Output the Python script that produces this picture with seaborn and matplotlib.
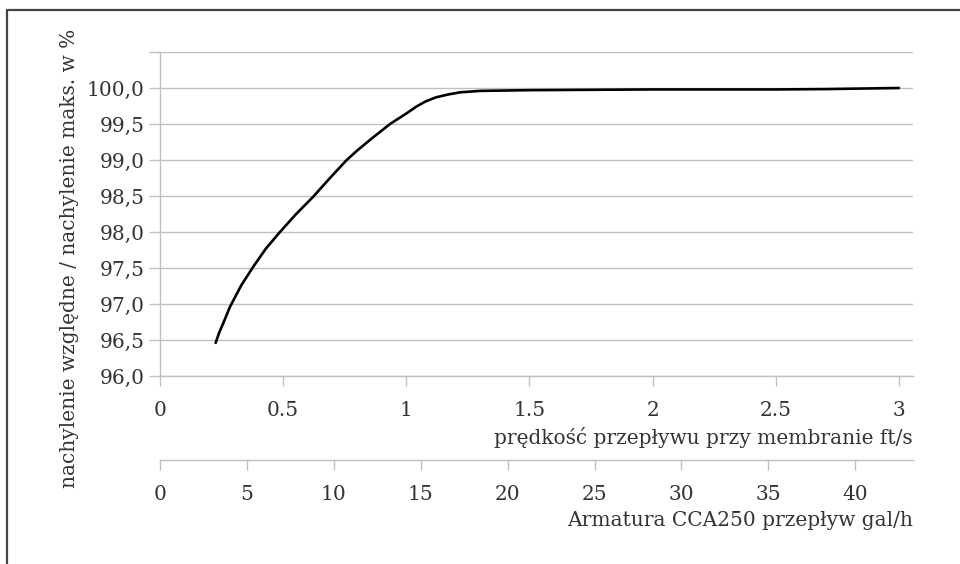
import numpy as np
import matplotlib
matplotlib.use("Agg")
import matplotlib.pyplot as plt
from matplotlib.lines import Line2D
import seaborn as sns

# dane: prędkość (ft/s) i nachylenie względne (%)
velocity_fts = [0.226, 0.240, 0.260, 0.284, 0.33, 0.379, 0.43, 0.487, 0.55, 0.622,
                0.69, 0.758, 0.80, 0.86, 0.934, 0.97, 1.002, 1.04, 1.076, 1.12,
                1.17, 1.218, 1.30, 1.50, 2.00, 2.50, 2.70, 3.00]
slope_pct = [96.46, 96.60, 96.76, 96.96, 97.26, 97.52, 97.77, 98.00, 98.24, 98.49,
             98.75, 99.00, 99.13, 99.30, 99.50, 99.58, 99.65, 99.74, 99.81, 99.87,
             99.91, 99.94, 99.96, 99.97, 99.98, 99.98, 99.985, 100.00]

y_ticks = [96.0, 96.5, 97.0, 97.5, 98.0, 98.5, 99.0, 99.5, 100.0, 100.5]
y_labels = ["96,0", "96,5", "97,0", "97,5", "98,0", "98,5", "99,0", "99,5", "100,0", ""]
x_ticks = [0, 0.5, 1, 1.5, 2, 2.5, 3]
x_labels = ["0", "0.5", "1", "1.5", "2", "2.5", "3"]
gal_ticks = [0, 5, 10, 15, 20, 25, 30, 35, 40]
gal_per_fts = 14.17  # przelicznik ft/s -> gal/h (CCA250)

sns.set_theme(style="white")
plt.rcParams['font.family'] = ['DejaVu Serif']
txt = "#333333"
grid_c = "#c0c0c0"
fs = 14.5

fig = plt.figure(figsize=(9.6, 5.64), dpi=100)
ax = fig.add_axes([160 / 960, 1 - 376 / 564, (913 - 160) / 960, (376 - 52) / 564])

sns.lineplot(x=velocity_fts, y=slope_pct, ax=ax, color="black", linewidth=1.9, sort=False)

ax.set_xlim(0, 3.057)
ax.set_ylim(96.0, 100.5)
ax.set_yticks(y_ticks)
ax.set_yticklabels(y_labels)
ax.set_xticks(x_ticks)
ax.set_xticklabels(x_labels)
ax.grid(axis="y", color=grid_c, linewidth=1.0)
ax.set_axisbelow(True)

for s in ["top", "right"]:
    ax.spines[s].set_visible(False)
for s in ["left", "bottom"]:
    ax.spines[s].set_color(grid_c)
    ax.spines[s].set_linewidth(1.0)

ax.tick_params(axis="y", which="major", left=True, length=8, width=1.0, color=grid_c,
               labelsize=fs, labelcolor=txt, pad=3)
ax.tick_params(axis="x", which="major", bottom=True, length=7, width=1.0, color=grid_c,
               labelsize=fs, labelcolor=txt, pad=11)

ax.set_xlabel("prędkość przepływu przy membranie ft/s", fontsize=fs, color=txt,
              loc="right", labelpad=5)
ax.set_ylabel("")

# druga oś: przepływ gal/h
sec = ax.secondary_xaxis(-0.259, functions=(lambda v: v * gal_per_fts, lambda g: g / gal_per_fts))
sec.set_xticks(gal_ticks)
sec.spines["bottom"].set_color(grid_c)
sec.spines["bottom"].set_linewidth(1.0)
sec.tick_params(axis="x", length=7, width=1.0, color=grid_c, labelsize=fs, labelcolor=txt, pad=11)
sec.set_xlabel("Armatura CCA250 przepływ gal/h", fontsize=fs, color=txt, loc="right", labelpad=5)

fig.text(70 / 960, 1 - 258 / 564, "nachylenie względne / nachylenie maks. w %",
         rotation=90, va="center", ha="center", fontsize=fs, color=txt)

# ramka: tylko górna i lewa krawędź
fig.add_artist(Line2D([7 / 960, 1.0], [1 - 10 / 564, 1 - 10 / 564], color="#444444", linewidth=1.6))
fig.add_artist(Line2D([7 / 960, 7 / 960], [1 - 10 / 564, 0.0], color="#444444", linewidth=1.6))

fig.savefig("out.png", dpi=100)
